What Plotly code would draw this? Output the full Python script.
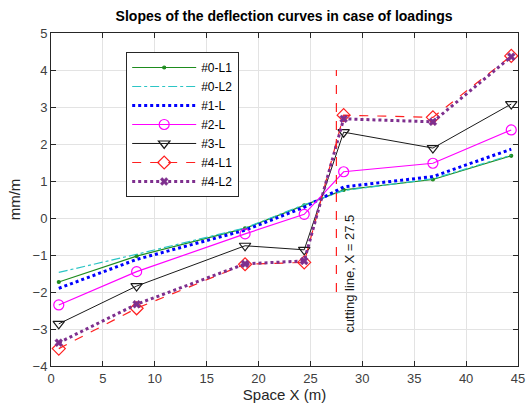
import plotly.graph_objects as go

x_pos = [0.75, 8.25, 18.7, 24.4, 28.2, 36.8, 44.35]

s0_L1 = [-1.73, -1.03, -0.28, 0.34, 0.76, 1.04, 1.68]
s0_L2 = [-1.47, -0.98, -0.27, 0.36, 0.74, 1.06, 1.70]
s1_L = [-1.90, -1.12, -0.33, 0.29, 0.84, 1.12, 1.86]
s2_L = [-2.35, -1.45, -0.43, 0.10, 1.25, 1.48, 2.38]
s3_L = [-2.86, -1.84, -0.75, -0.86, 2.32, 1.89, 3.08]
s4_L1 = [-3.53, -2.44, -1.25, -1.20, 2.78, 2.72, 4.38]
s4_L2 = [-3.37, -2.33, -1.24, -1.16, 2.68, 2.60, 4.36]

cut_x = 27.5
cut_y = [-2.0, 4.0]

title = "Slopes of the deflection curves in case of loadings"

FONT = "Liberation Sans, Arial, sans-serif"

fig = go.Figure()

def add(name, y, color, dash, width, symbol=None, msize=0):
    mode = "lines+markers" if symbol else "lines"
    marker = None
    if symbol:
        marker = dict(symbol=symbol, size=msize, color=color,
                      line=dict(color=color, width=1.2))
    fig.add_trace(go.Scatter(x=x_pos, y=y, name=name, mode=mode,
                             line=dict(color=color, dash=dash, width=width),
                             marker=marker))

add("#0-L1", s0_L1, "#1E8C1E", "solid", 1.2, "circle", 3)
add("#0-L2", s0_L2, "#2CC5C5", "dashdot", 1.2)
add("#1-L", s1_L, "#0000FF", "dot", 3)
add("#2-L", s2_L, "#FF00FF", "solid", 1.2, "circle-open", 10)
add("#3-L", s3_L, "#1A1A1A", "solid", 1.0, "triangle-down-open", 10)
add("#4-L1", s4_L1, "#FF2020", "dash", 1.2, "diamond-open", 10)
fig.add_trace(go.Scatter(x=x_pos, y=s4_L2, name="#4-L2", mode="lines+markers",
                         line=dict(color="#7E2F8E", dash="dot", width=3),
                         marker=dict(symbol="x", size=7, color="#7E2F8E",
                                     line=dict(color="#7E2F8E", width=0.5))))

fig.add_trace(go.Scatter(x=[cut_x, cut_x], y=cut_y, mode="lines", showlegend=False,
                         line=dict(color="#FF2020", dash="dash", width=1.2)))

fig.add_annotation(x=28.75, y=-1.5, text="cutting line, X = 27.5", textangle=-90,
                   showarrow=False, font=dict(family=FONT, size=13, color="#1a1a1a"))

axis_common = dict(showgrid=True, gridcolor="#E3E3E3", gridwidth=1,
                   showline=True, linecolor="#262626", linewidth=1, mirror="ticks",
                   ticks="inside", ticklen=5, tickcolor="#262626",
                   tickfont=dict(family=FONT, size=13, color="#404040"),
                   zeroline=False, automargin=False)

fig.update_layout(
    width=526, height=418,
    margin=dict(l=51, r=8, t=33, b=52, autoexpand=False),
    paper_bgcolor="white", plot_bgcolor="white",
    title=dict(text="<b>" + title + "</b>", x=0.54, xanchor="center", y=0.962, yanchor="middle",
               font=dict(family=FONT, size=14, color="#000000")),
    xaxis=dict(range=[0, 45], dtick=5,
               title=dict(text="Space X (m)", font=dict(family=FONT, size=15, color="#262626"), standoff=4),
               **axis_common),
    yaxis=dict(range=[-4, 5], dtick=1,
               title=dict(text="mm/m", font=dict(family=FONT, size=15, color="#262626"), standoff=8),
               **axis_common),
    legend=dict(x=0.161, y=0.943, xanchor="left", yanchor="top",
                bgcolor="white", bordercolor="#262626", borderwidth=1,
                font=dict(family=FONT, size=12, color="#000000"),
                tracegroupgap=0, itemwidth=64),
    showlegend=True,
)

fig.write_html("out.html", config={"displayModeBar": False},
               post_script="document.body.style.margin='0';document.body.style.overflow='hidden';")
